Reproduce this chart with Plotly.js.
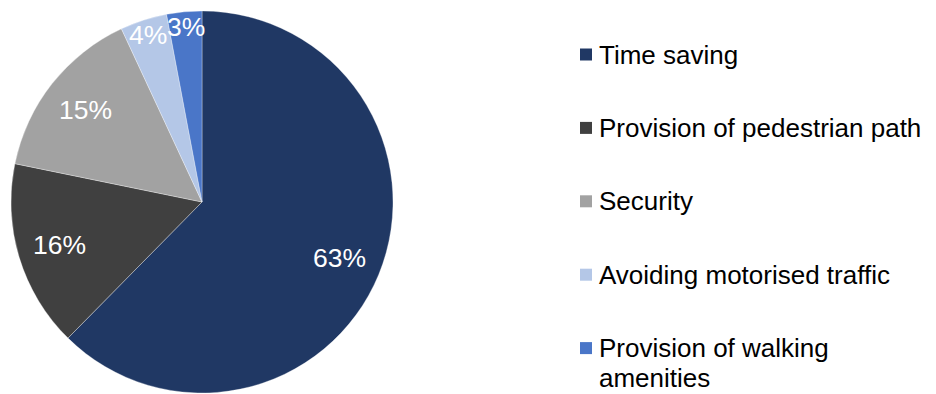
<!DOCTYPE html>
<html>
<head>
<meta charset="utf-8">
<script src="https://cdn.plot.ly/plotly-3.0.1.min.js"></script>
<style>html,body{margin:0;padding:0;background:#fff;}#chart{width:936px;height:394px;}</style>
</head>
<body>
<div id="chart"></div>
<script>
const labels = ["Time saving", "Provision of pedestrian path", "Security", "Avoiding motorised traffic", "Provision of walking amenities"];
const values = [63, 16, 15, 4, 3];
const colors = ["#203864", "#404040", "#A2A2A2", "#B4C7E7", "#4A76C8"];
const legendLines = [["Time saving"], ["Provision of pedestrian path"], ["Security"], ["Avoiding motorised traffic"], ["Provision of walking", "amenities"]];

const W = 936, H = 394;
const FONT = "Liberation Sans, Arial, sans-serif";
const FS = 26.5;
const LFS = 26;

// pie geometry (px)
const pieL = 11, pieR = 393, pieT = 11, pieB = 393;
const cx = (pieL + pieR) / 2, cy0 = (pieT + pieB) / 2, R = (pieR - pieL) / 2;

const shapes = [];
const annotations = [];
const legendTop = 54.5, legendStep = 73.4, lineH = 30;
legendLines.forEach((lines, i) => {
  const cy = legendTop + i * legendStep;
  shapes.push({type: "rect", xref: "paper", yref: "paper",
    x0: 580 / W, x1: 592 / W, y0: 1 - (cy + 6) / H, y1: 1 - (cy - 6) / H,
    fillcolor: colors[i], line: {width: 0}});
  lines.forEach((t, j) => {
    annotations.push({xref: "paper", yref: "paper", x: 598 / W, y: 1 - (cy + j * lineH) / H,
      xanchor: "left", yanchor: "middle", showarrow: false, text: t, borderpad: 0,
      font: {family: FONT, size: LFS, color: "#000"}});
  });
});

// slice labels placed at each slice's mid-angle (computed from the values)
const total = values.reduce((a, b) => a + b, 0);
let cum = 0;
values.forEach((v, i) => {
  const share = v / total;
  const mid = (cum + share / 2) * 2 * Math.PI;
  cum += share;
  const rf = share > 0.1 ? 0.78 : 0.92;
  const px = cx + rf * R * Math.sin(mid);
  const py = cy0 - rf * R * Math.cos(mid);
  annotations.push({xref: "paper", yref: "paper", x: px / W, y: 1 - py / H,
    xanchor: "center", yanchor: "middle", showarrow: false, text: v + "%",
    font: {family: FONT, size: FS, color: "#fff"}});
});

const trace = {
  type: "pie", labels: labels, values: values, sort: false, direction: "clockwise", rotation: 0,
  marker: {colors: colors, line: {color: "rgba(255,255,255,0.45)", width: 0.7}},
  textinfo: "none", textposition: "none",
  hoverinfo: "label+value",
  domain: {x: [pieL / W, pieR / W], y: [1 - pieB / H, 1 - pieT / H]},
  showlegend: false
};

Plotly.newPlot("chart", [trace], {
  width: W, height: H, margin: {l: 0, r: 0, t: 0, b: 0},
  paper_bgcolor: "#fff", showlegend: false,
  shapes: shapes, annotations: annotations,
  font: {family: FONT}
}, {displayModeBar: false, staticPlot: true});
</script>
</body>
</html>
